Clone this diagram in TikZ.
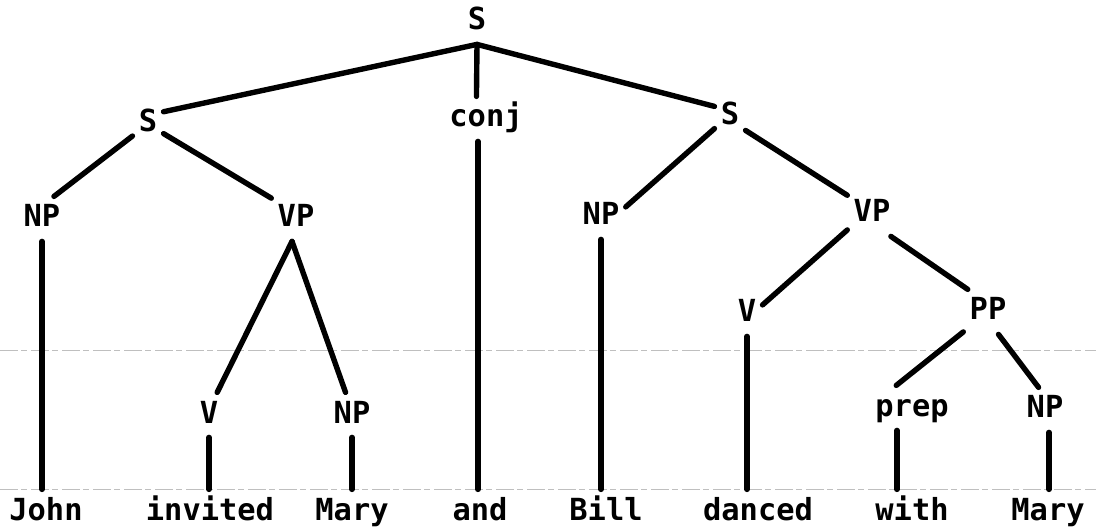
\documentclass[tikz,border=0pt]{standalone}
\usepackage{fontspec}
\newfontfamily\treefont{DejaVu Sans Mono}

\begin{document}
\begin{tikzpicture}[x=0.5pt,y=-0.5pt,
  cat/.style={anchor=base,font=\treefont\bfseries\fontsize{15.2}{18}\selectfont,
    text height=11.1pt,text depth=3pt,inner xsep=3pt,inner ysep=4pt},
  branch/.style={line width=2.7pt,line cap=round},
  scan/.style={gray!50,line width=0.5pt,dash pattern=on 9pt off 1.5pt on 3pt off 2pt}]
\useasboundingbox (0,0) rectangle (1096,528);
% faint scan lines
\draw[scan] (0,351) -- (1096,351);
\draw[scan] (0,489) -- (1096,489);
% categories
\node[cat] (s0) at (477,30) {S};
\node[cat] (s1) at (148,132) {S};
\node[cat] (conj) at (486,127) {conj};
\node[cat] (s2) at (730,125) {S};
\node[cat] (np1) at (42,227) {NP};
\node[cat] (vp1) at (296,227) {VP};
\node[cat] (np2) at (601,225) {NP};
\node[cat] (vp2) at (872,222) {VP};
\node[cat] (v2) at (747,322) {V};
\node[cat] (pp) at (988,320) {PP};
\node[cat] (v1) at (209,423) {V};
\node[cat] (np3) at (352,423) {NP};
\node[cat] (prep) at (912,416) {prep};
\node[cat] (np4) at (1045,418) {NP};
% words
\node[cat] (john) at (46,520) {John};
\node[cat] (invited) at (210,520) {invited};
\node[cat] (mary1) at (352,520) {Mary};
\node[cat] (and) at (480,520) {and};
\node[cat] (bill) at (606,520) {Bill};
\node[cat] (danced) at (758,520) {danced};
\node[cat] (with) at (912,520) {with};
\node[cat] (mary2) at (1048,520) {Mary};
% branches
\draw[branch] (s0.south) -- (s1.38);
\draw[branch] (s0.south) -- (conj.113);
\draw[branch] (s0.south) -- (s2.146);
\draw[branch] (s1.-142) -- (np1.62);
\draw[branch] (s1.-32) -- (vp1.140);
\draw[branch] (s2.-143) -- (np2.22);
\draw[branch] (s2.-41) -- (vp2.143);
\draw[branch] (vp1.-100) -- (v1.70);
\draw[branch] (vp1.-100) -- (np3.106);
\draw[branch] (vp2.-147) -- (v2.30);
\draw[branch] (vp2.-50) -- (pp.132);
\draw[branch] (pp.-141) -- (prep.125);
\draw[branch] (pp.-65) -- (np4.106);
% stems
\draw[branch] (np1.south) -- (np1.south |- john.north);
\draw[branch] (v1.south) -- (v1.south |- invited.north);
\draw[branch] (np3.south) -- (np3.south |- mary1.north);
\draw[branch] (conj.-110) -- (conj.-110 |- and.north);
\draw[branch] (np2.south) -- (np2.south |- bill.north);
\draw[branch] (v2.south) -- (v2.south |- danced.north);
\draw[branch] (prep.-124) -- (prep.-124 |- with.north);
\draw[branch] (np4.-80) -- (np4.-80 |- mary2.north);
\end{tikzpicture}
\end{document}
